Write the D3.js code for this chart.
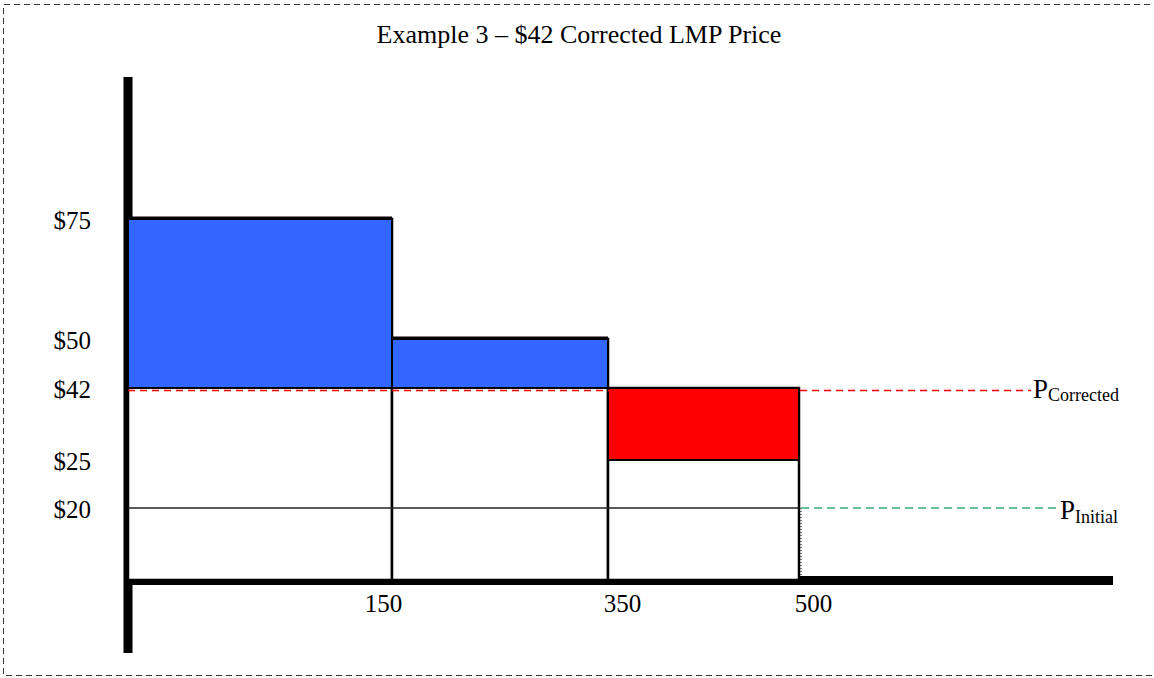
<!DOCTYPE html>
<html>
<head>
<meta charset="utf-8">
<script src="https://cdn.jsdelivr.net/npm/d3@7"></script>
<style>
  body { margin: 0; background: #fff; overflow: hidden; }
  text { font-family: "Liberation Serif", "Times New Roman", serif; fill: #000; }
</style>
</head>
<body>
<div class="chart"></div>
<script>
//Chart data
var title = "Example 3 \u2013 $42 Corrected LMP Price";
var quantities = [150, 350, 500];      // cumulative MW at end of each block
var offerPrices = [75, 50, 25];        // offer price of each block
var priceTicks = [75, 50, 42, 25, 20];
var initialPrice = 20;
var correctedPrice = 42;

//Width and height
var w = 1154;
var h = 678;

var svg = d3.select(".chart")
    .append("svg")
    .attr("width", w)
    .attr("height", h)
    .style("display", "block");

//Schematic (non uniform) scales
var xScale = d3.scaleLinear()
    .domain([0, 150, 350, 500])
    .range([128, 392, 608, 799]);

var yScale = d3.scaleLinear()
    .domain([0, 20, 25, 42, 50, 75])
    .range([580, 508, 460, 388, 339, 219]);

//Dashed frame (right edge falls outside the picture)
svg.append("path")
    .attr("d", "M1160,4.5 H3.5 V675.5 H1160")
    .attr("fill", "none")
    .attr("stroke", "#333")
    .attr("stroke-width", 1)
    .attr("stroke-dasharray", "6,4");

//Title
svg.append("text")
    .attr("x", 579)
    .attr("y", 43)
    .attr("text-anchor", "middle")
    .style("font-size", "26px")
    .text(title);

//Thick axis lines
svg.append("line")
    .attr("x1", xScale(0)).attr("x2", xScale(0))
    .attr("y1", 77).attr("y2", 653)
    .attr("stroke", "#000")
    .attr("stroke-width", 9);

svg.append("line")
    .attr("x1", xScale(0) - 4).attr("x2", 1113)
    .attr("y1", yScale(0) + 0.5).attr("y2", yScale(0) + 0.5)
    .attr("stroke", "#000")
    .attr("stroke-width", 9);

//Blocks
var blocks = quantities.map((q, i) => ({
    x0: i ? quantities[i - 1] : 0,
    x1: q,
    offer: offerPrices[i]
}));

//Outline of each block from zero
svg.selectAll("rect.block")
    .data(blocks)
    .enter()
    .append("rect")
    .attr("class", "block")
    .attr("x", (d) => xScale(d.x0))
    .attr("y", (d) => yScale(Math.max(d.offer, correctedPrice)))
    .attr("width", (d) => xScale(d.x1) - xScale(d.x0))
    .attr("height", (d) => yScale(0) - yScale(Math.max(d.offer, correctedPrice)))
    .attr("fill", "#fff")
    .attr("stroke", "#000")
    .attr("stroke-width", 2.5);

//Filled part between offer and corrected price
svg.selectAll("rect.fill")
    .data(blocks)
    .enter()
    .append("rect")
    .attr("class", "fill")
    .attr("x", (d) => xScale(d.x0))
    .attr("y", (d) => yScale(Math.max(d.offer, correctedPrice)))
    .attr("width", (d) => xScale(d.x1) - xScale(d.x0))
    .attr("height", (d) => Math.abs(yScale(d.offer) - yScale(correctedPrice)))
    .attr("fill", (d) => d.offer > correctedPrice ? "#3366ff" : "#ff0000")
    .attr("stroke", "#000")
    .attr("stroke-width", 2);

//Thicker top edge on blocks above corrected price
svg.selectAll("line.top")
    .data(blocks.filter((d) => d.offer > correctedPrice))
    .enter()
    .append("line")
    .attr("class", "top")
    .attr("x1", (d) => xScale(d.x0))
    .attr("x2", (d) => xScale(d.x1))
    .attr("y1", (d) => yScale(d.offer) - 1)
    .attr("y2", (d) => yScale(d.offer) - 1)
    .attr("stroke", "#000")
    .attr("stroke-width", 3);

//Initial price line across blocks
svg.append("line")
    .attr("x1", xScale(0))
    .attr("x2", xScale(500))
    .attr("y1", yScale(initialPrice))
    .attr("y2", yScale(initialPrice))
    .attr("stroke", "#222")
    .attr("stroke-width", 1.5);

//Dotted drop at end of last block
svg.append("line")
    .attr("x1", xScale(500) + 2)
    .attr("x2", xScale(500) + 2)
    .attr("y1", yScale(initialPrice))
    .attr("y2", yScale(0))
    .attr("stroke", "#000")
    .attr("stroke-width", 1)
    .attr("stroke-dasharray", "1,2");

//Corrected price dashed line
svg.append("line")
    .attr("x1", xScale(0))
    .attr("x2", 1031)
    .attr("y1", yScale(correctedPrice) + 2.5)
    .attr("y2", yScale(correctedPrice) + 2.5)
    .attr("stroke", "#ff0000")
    .attr("stroke-width", 1.6)
    .attr("stroke-dasharray", "7,5");

//Initial price dashed line
svg.append("line")
    .attr("x1", xScale(500) + 2)
    .attr("x2", 1059)
    .attr("y1", yScale(initialPrice))
    .attr("y2", yScale(initialPrice))
    .attr("stroke", "#3aa873")
    .attr("stroke-width", 1.6)
    .attr("stroke-dasharray", "8,5");

//Line labels with subscripts
var pc = svg.append("text")
    .attr("x", 1033)
    .attr("y", 398)
    .style("font-size", "27px");
pc.append("tspan").text("P");
pc.append("tspan").attr("dy", 3).style("font-size", "18px").text("Corrected");

var pi = svg.append("text")
    .attr("x", 1060)
    .attr("y", 519)
    .style("font-size", "27px");
pi.append("tspan").text("P");
pi.append("tspan").attr("dy", 4).style("font-size", "18px").text("Initial");

//Axis labels
var yAxis = d3.axisLeft(yScale)
    .tickValues(priceTicks)
    .tickSize(0)
    .tickPadding(37)
    .tickFormat((d) => "$" + d);
var gy = svg.append("g")
    .attr("transform", "translate(" + xScale(0) + ", 0)")
    .call(yAxis);
gy.select(".domain").remove();
gy.selectAll("text")
    .attr("font-family", "Liberation Serif")
    .attr("font-size", 25)
    .attr("dy", "0.38em");

var xAxis = d3.axisBottom(xScale)
    .tickValues(quantities)
    .tickSize(0)
    .tickPadding(14);
var gx = svg.append("g")
    .attr("transform", "translate(0, " + yScale(0) + ")")
    .call(xAxis);
gx.select(".domain").remove();
gx.selectAll("text")
    .attr("font-family", "Liberation Serif")
    .attr("font-size", 25)
    .attr("dx", (d) => d === 150 ? -9 : 14);
</script>
</body>
</html>
